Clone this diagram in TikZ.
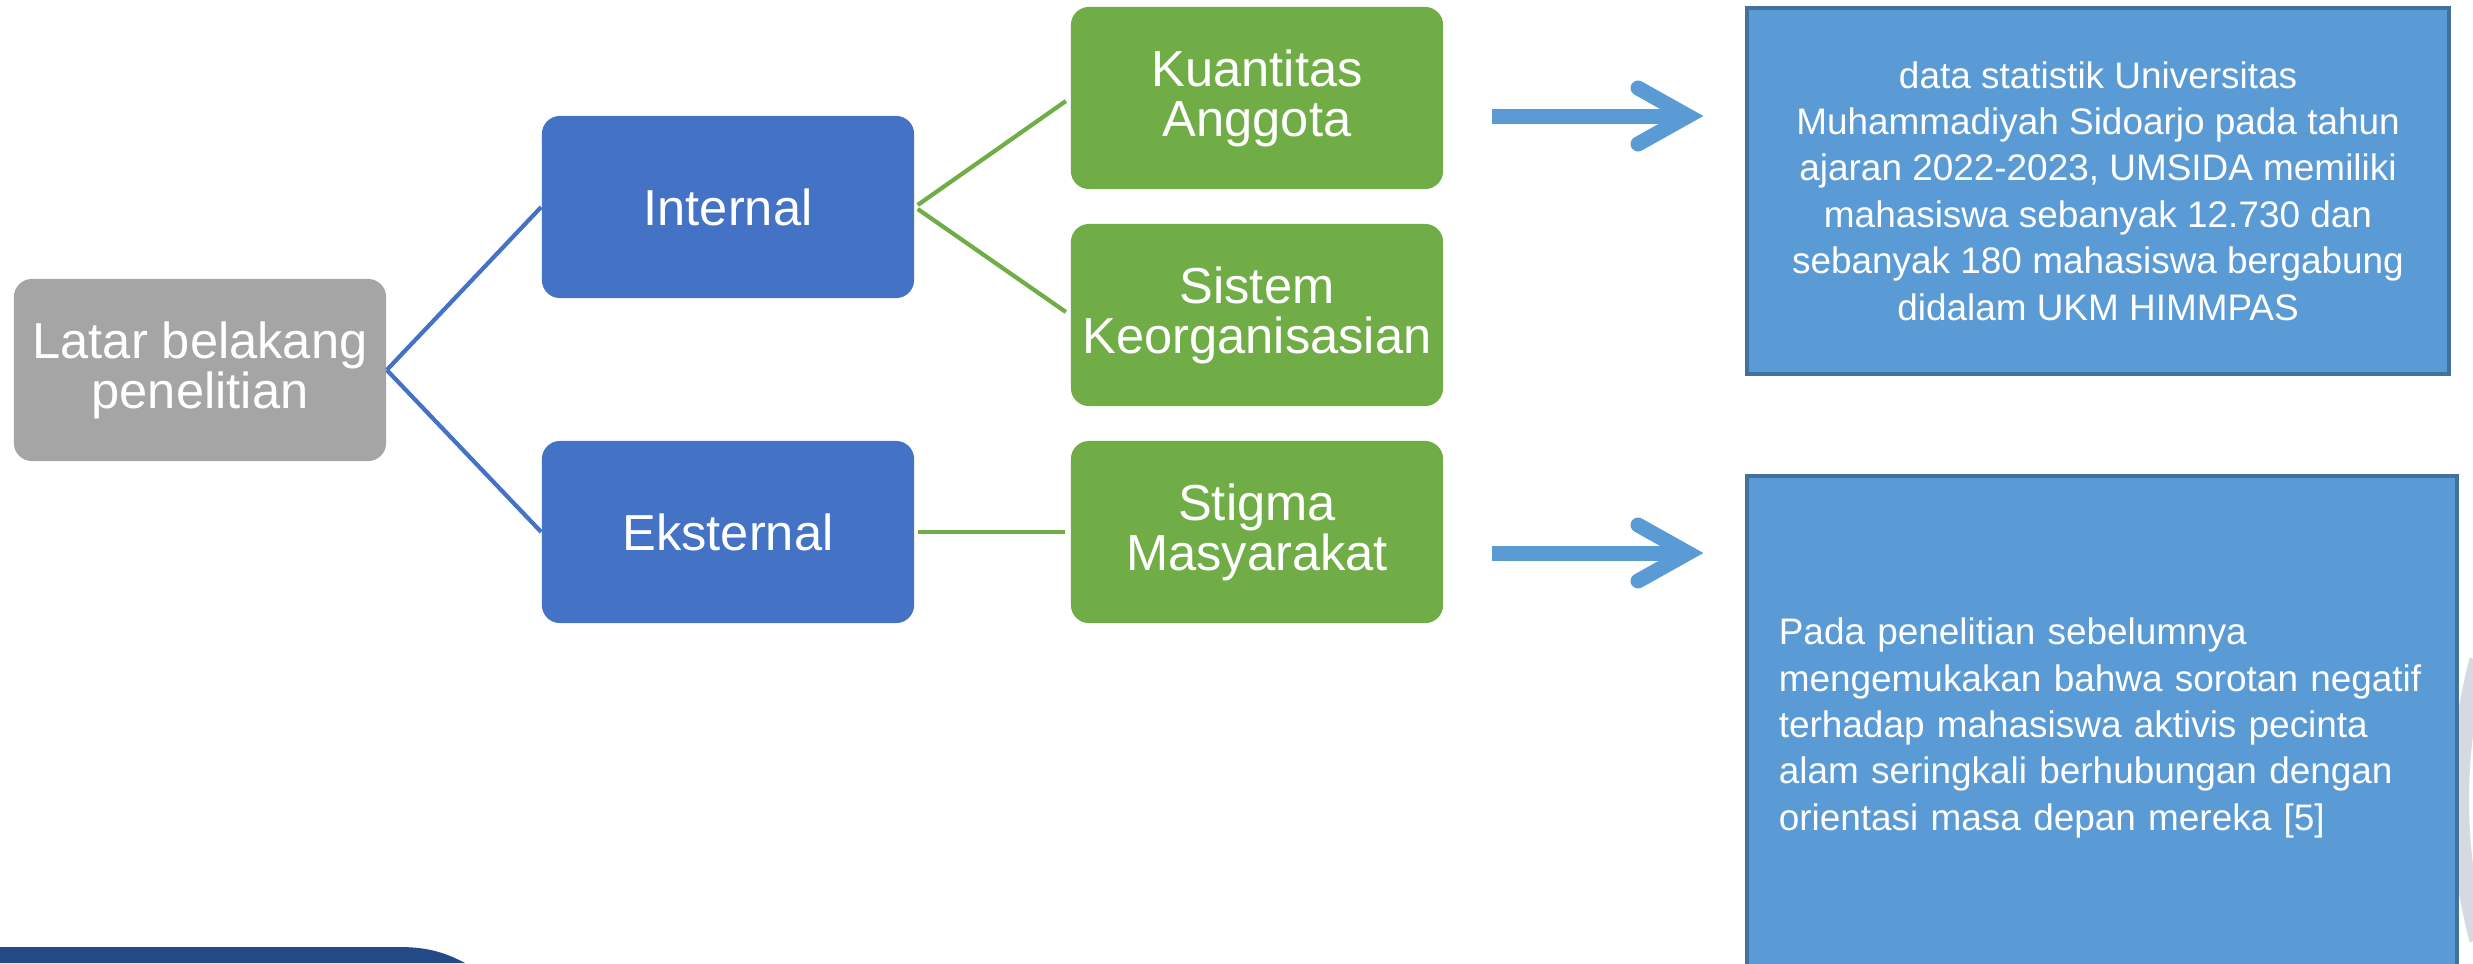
\documentclass[tikz,border=0pt]{standalone}
\usepackage{fontspec}
\setmainfont{Liberation Sans}
\definecolor{cgrey}{HTML}{A5A5A5}
\definecolor{cblue}{HTML}{4472C4}
\definecolor{cgreen}{HTML}{70AD47}
\definecolor{cinfo}{HTML}{5B9BD5}
\definecolor{cborder}{HTML}{41719C}
\definecolor{cnavy}{HTML}{234A86}
\definecolor{carc}{HTML}{D6D9E2}
\begin{document}
\begin{tikzpicture}[x=0.01cm,y=-0.01cm,
  base/.style={rounded corners=0.18cm, inner sep=0pt, align=center, text=white,
    font=\fontsize{14.4}{14.2}\selectfont, minimum width=3.72cm, minimum height=1.82cm},
  greynode/.style={base, fill=cgrey},
  bluenode/.style={base, fill=cblue},
  greennode/.style={base, fill=cgreen},
  infobox/.style={draw=cborder, line width=1.1pt, fill=cinfo, text=white, inner sep=0pt,
    font=\fontsize{10.5}{13.2}\selectfont},
  bluelink/.style={draw=cblue, line width=1.2pt},
  greenlink/.style={draw=cgreen, line width=1.2pt, shorten >=1.5pt, shorten <=1pt},
  arrowline/.style={draw=cinfo, line width=0.15cm}]
\useasboundingbox (0,0) rectangle (2473,963);
\clip (0,0) rectangle (2473,963);

% decorative shapes
\fill[cnavy] (0,963) -- (0,947) -- (400,947) .. controls (430,947) and (448,954) .. (465,963) -- cycle;
\draw[carc, line width=0.18cm] (3000,800) ++(165:540) arc (165:195:540);

% nodes
\node[greynode] (latar) at (200,370) {Latar belakang\\penelitian};
\node[bluenode] (internal) at (728,207) {Internal};
\node[bluenode] (eksternal) at (728,532) {Eksternal};
\node[greennode] (kuant) at (1257,98) {Kuantitas\\Anggota};
\node[greennode] (sistem) at (1257,315) {Sistem\\Keorganisasian};
\node[greennode] (stigma) at (1257,532) {Stigma\\Masyarakat};

\node[infobox, minimum width=7.02cm, minimum height=3.66cm, align=center] (box1) at (2098,191)
  {data statistik Universitas\\Muhammadiyah Sidoarjo pada tahun\\ajaran 2022-2023, UMSIDA memiliki\\mahasiswa sebanyak 12.730 dan\\sebanyak 180 mahasiswa bergabung\\didalam UKM HIMMPAS};
\node[infobox, minimum width=7.10cm, minimum height=5.04cm, text width=6.46cm, align=left] (box2) at (2102,728)
  {Pada penelitian sebelumnya\\mengemukakan bahwa sorotan negatif\\terhadap mahasiswa aktivis pecinta\\alam seringkali berhubungan dengan\\orientasi masa depan mereka [5]};

% connectors
\draw[bluelink] (latar.east) -- (internal.west);
\draw[bluelink] (latar.east) -- (eksternal.west);
\draw[greenlink] (internal.east) -- (kuant.west);
\draw[greenlink] (internal.east) -- (sistem.west);
\draw[greenlink] (eksternal.east) -- (stigma.west);

% block arrows
\coordinate (a1s) at (1492,116);
\coordinate (a1e) at (1688,116);
\coordinate (a2s) at (1492,553);
\coordinate (a2e) at (1688,553);
\draw[arrowline] (a1s) -- (a1e);
\draw[arrowline, line cap=round, line join=miter] ([shift={(-50,-28)}]a1e) -- (a1e) -- ([shift={(-50,28)}]a1e);
\draw[arrowline] (a2s) -- (a2e);
\draw[arrowline, line cap=round, line join=miter] ([shift={(-50,-28)}]a2e) -- (a2e) -- ([shift={(-50,28)}]a2e);
\end{tikzpicture}
\end{document}
